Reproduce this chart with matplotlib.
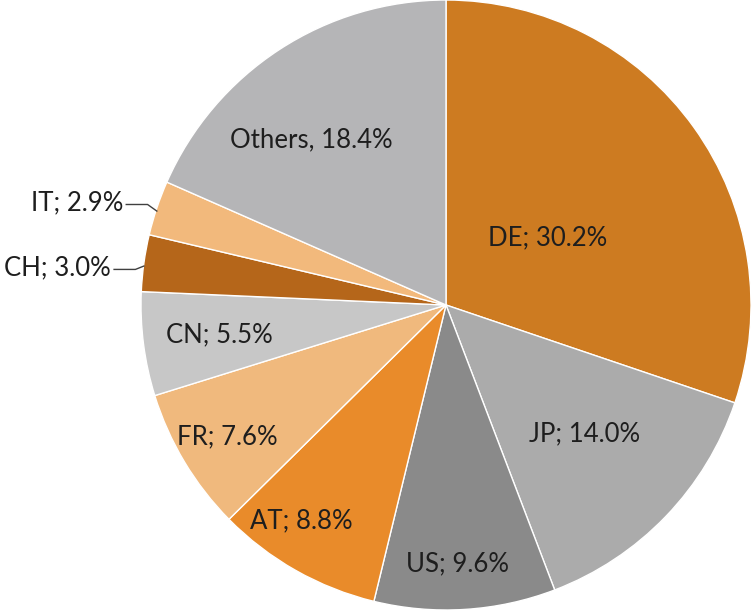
import numpy as np
import matplotlib.pyplot as plt

plt.rcParams['font.family'] = ['Lato', 'DejaVu Sans']

countries = ['DE', 'JP', 'US', 'AT', 'FR', 'CN', 'CH', 'IT', 'Others']
shares = [30.2, 14.0, 9.6, 8.8, 7.6, 5.5, 3.0, 2.9, 18.4]
colors = ['#CD7B21', '#ABABAB', '#8A8A8A', '#E98B2A', '#F0B97D',
          '#C7C7C7', '#B5661A', '#F2B97C', '#B5B5B7']

# label placement: radius (fraction of pie radius) and angle nudge (deg)
label_r = [0.40, 0.62, 0.85, 0.853, 0.837, 0.75, 1.105, 1.11, 0.70]
label_da = [-2, 1, -1, -4.4, 0, 0, 1.6, 1.0, 6]
outside = ['CH', 'IT']

fig = plt.figure(figsize=(7.55, 6.14), dpi=100)
ax = fig.add_axes([141 / 755, 4 / 614, 610 / 755, 610 / 614])
wedges, _ = ax.pie(shares, colors=colors, startangle=90, counterclock=False,
                   radius=1, wedgeprops=dict(edgecolor='white', linewidth=1))
ax.set_xlim(-1, 1)
ax.set_ylim(-1, 1)
ax.axis('off')

for w, name, val, r, da in zip(wedges, countries, shares, label_r, label_da):
    mid = (w.theta1 + w.theta2) / 2
    ang = np.deg2rad(mid + da)
    x, y = r * np.cos(ang), r * np.sin(ang)
    sep = ', ' if name == 'Others' else '; '
    txt = f'{name}{sep}{val:.1f}%'
    if name in outside:
        ax.text(x, y, txt, ha='right', va='center', fontsize=18.5,
                color='#1E1E1E', clip_on=False)
        ex, ey = np.cos(np.deg2rad(mid)), np.sin(np.deg2rad(mid))
        ax.plot([x + 0.01, x + 0.08, ex], [y - 0.005, y - 0.005, ey - 0.01],
                color='#404040', lw=1, clip_on=False)
    else:
        ax.text(x, y, txt, ha='center', va='center', fontsize=18.5,
                color='#1E1E1E')

fig.savefig('out.png', dpi=100, facecolor='white')
